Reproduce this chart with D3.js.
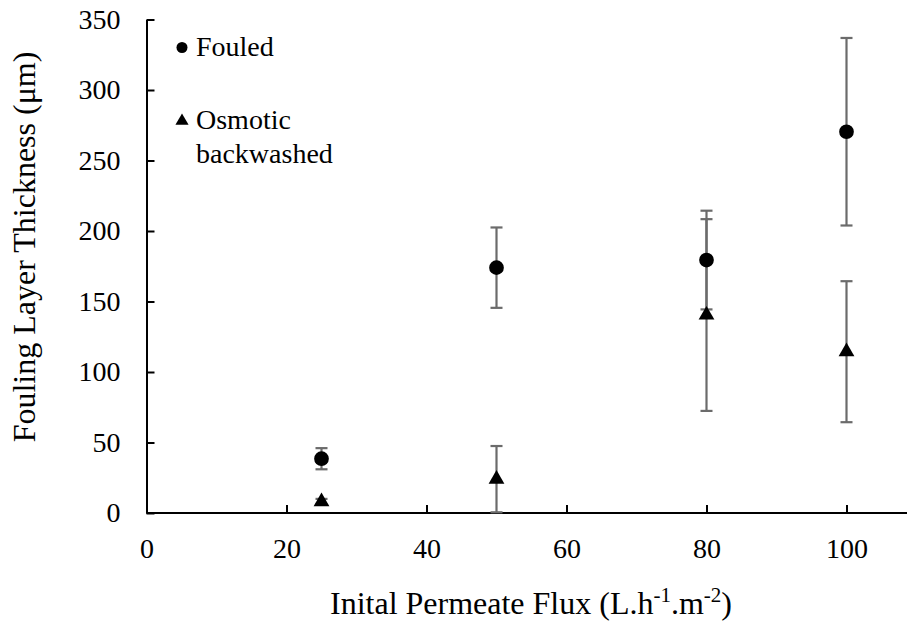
<!DOCTYPE html>
<html>
<head>
<meta charset="utf-8">
<script src="https://cdn.jsdelivr.net/npm/d3@7"></script>
<style>
  body { margin: 0; background: #fff; }
</style>
</head>
<body>
<script>
var width = 907,
    height = 623;

// data
var flux = [25, 50, 80, 100];
var fouled = [38.5, 174, 179.4, 270.4];
var fouledErr = [7.5, 28.5, 35, 66.5];
var osmotic = [8, 24, 140.4, 114.4];
var osmoticErr = [2, 23.5, 68, 50];
var xTicks = [0, 20, 40, 60, 80, 100];
var yTicks = [0, 50, 100, 150, 200, 250, 300, 350];

var serif = "'Liberation Serif', 'Times New Roman', serif";

var x = d3.scaleLinear().domain([0, 110]).range([146.5, 916.5]);
var y = d3.scaleLinear().domain([0, 350]).range([513, 19.5]);

var svg = d3.select("body").append("svg")
    .attr("width", width)
    .attr("height", height);

// axes, ticks pointing inward
var xAxis = svg.append("g")
    .attr("transform", "translate(0," + y(0) + ")")
    .call(d3.axisBottom(x).tickValues(xTicks).tickSizeInner(-8).tickSizeOuter(0).tickPadding(25));
var yAxis = svg.append("g")
    .attr("transform", "translate(" + x(0) + ",0)")
    .call(d3.axisLeft(y).tickValues(yTicks).tickSizeInner(-8).tickSizeOuter(0).tickPadding(26));

[xAxis, yAxis].forEach(function(a) {
  a.select(".domain").attr("stroke", "#000").attr("stroke-width", 2);
  a.selectAll(".tick line").attr("stroke", "#000").attr("stroke-width", 2);
  a.selectAll(".tick text")
    .style("font-family", serif)
    .style("font-size", "28px")
    .attr("fill", "#000");
});
xAxis.select(".domain").attr("d", "M" + x(0) + ",0H" + width);

// error bars
var series = [
  {vals: fouled, err: fouledErr, sym: d3.symbolCircle, size: 170},
  {vals: osmotic, err: osmoticErr, sym: d3.symbolTriangle, size: 108}
];

var capW = 6;
series.forEach(function(s) {
  var g = svg.append("g").attr("stroke", "#6b6b6b").attr("stroke-width", 2.2);
  flux.forEach(function(f, i) {
    var cx = x(f), top = y(s.vals[i] + s.err[i]), bot = y(s.vals[i] - s.err[i]);
    g.append("line").attr("x1", cx).attr("x2", cx).attr("y1", top).attr("y2", bot);
    g.append("line").attr("x1", cx - capW).attr("x2", cx + capW).attr("y1", top).attr("y2", top);
    g.append("line").attr("x1", cx - capW).attr("x2", cx + capW).attr("y1", bot).attr("y2", bot);
  });
});

series.forEach(function(s) {
  svg.append("g").selectAll("path")
    .data(s.vals)
    .enter().append("path")
      .attr("d", d3.symbol().type(s.sym).size(s.size))
      .attr("transform", function(d, i) { return "translate(" + x(flux[i]) + "," + y(d) + ")"; })
      .attr("fill", "#000");
});

// legend
var leg = svg.append("g");
leg.append("path").attr("d", d3.symbol().type(d3.symbolCircle).size(95)())
  .attr("transform", "translate(182,47.5)").attr("fill", "#000");
leg.append("text").attr("x", 196).attr("y", 56).text("Fouled");
leg.append("path").attr("d", d3.symbol().type(d3.symbolTriangle).size(75)())
  .attr("transform", "translate(182,121)").attr("fill", "#000");
leg.append("text").attr("x", 196).attr("y", 129).text("Osmotic");
leg.append("text").attr("x", 196).attr("y", 163).text("backwashed");
leg.selectAll("text").style("font-family", serif).style("font-size", "28px");

// axis titles
var xl = svg.append("text")
    .attr("x", 531).attr("y", 614)
    .attr("text-anchor", "middle")
    .style("font-family", serif)
    .style("font-size", "32px");
xl.append("tspan").text("Inital Permeate Flux (L.h");
xl.append("tspan").attr("dy", -12).style("font-size", "21px").text("-1");
xl.append("tspan").attr("dy", 12).text(".m");
xl.append("tspan").attr("dy", -12).style("font-size", "21px").text("-2");
xl.append("tspan").attr("dy", 12).text(")");

svg.append("text")
    .attr("transform", "translate(35,247) rotate(-90)")
    .attr("text-anchor", "middle")
    .style("font-family", serif)
    .style("font-size", "32px")
    .text("Fouling Layer Thickness (\u03bcm)");
</script>
</body>
</html>
